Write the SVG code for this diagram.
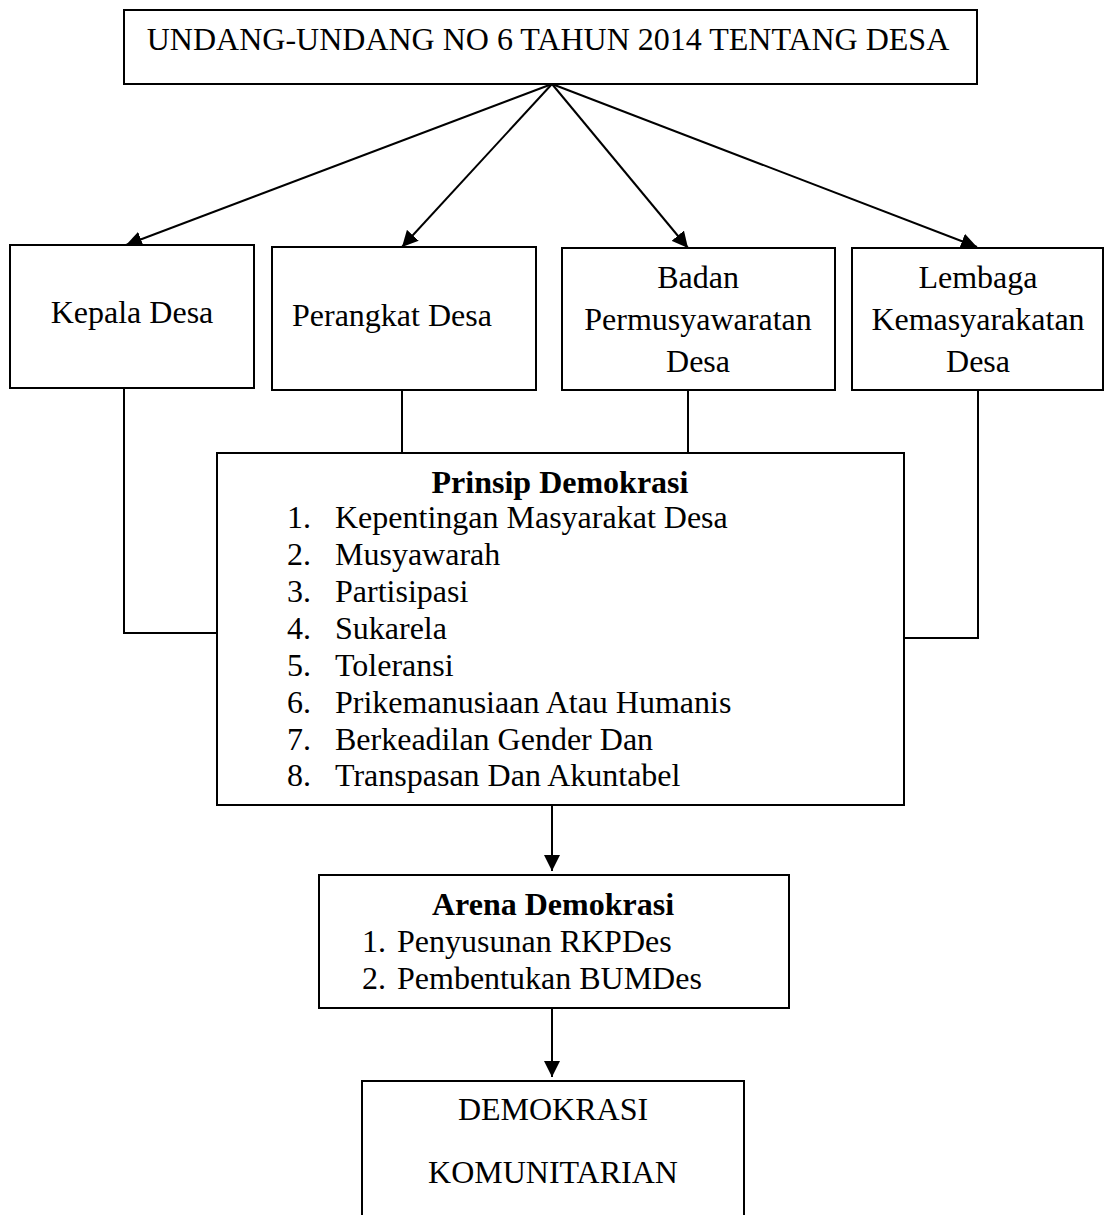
<svg xmlns="http://www.w3.org/2000/svg" width="1105" height="1215" viewBox="0 0 1105 1215">
<style>
.box{fill:#fff;stroke:#000;stroke-width:2}
.t{font-family:"Liberation Serif","Times New Roman",serif;font-size:32px;fill:#000}
.c{text-anchor:middle}
.b{font-weight:bold}
.ln{stroke:#000;stroke-width:2;fill:none}
</style>
<defs>
<marker id="ah" markerUnits="userSpaceOnUse" markerWidth="17" markerHeight="16" refX="16" refY="8" orient="auto">
<path d="M0,0 L16,8 L0,16 z" fill="#000"/>
</marker>
</defs>
<rect width="1105" height="1215" fill="#fff"/>
<g id="connectors">
<line class="ln" x1="552" y1="84" x2="126" y2="245" marker-end="url(#ah)"/>
<line class="ln" x1="552" y1="84" x2="402" y2="247" marker-end="url(#ah)"/>
<line class="ln" x1="552" y1="84" x2="688" y2="248" marker-end="url(#ah)"/>
<line class="ln" x1="552" y1="84" x2="977" y2="247" marker-end="url(#ah)"/>
<polyline class="ln" points="124,388 124,633 217,633"/>
<line class="ln" x1="402" y1="390" x2="402" y2="453"/>
<line class="ln" x1="688" y1="390" x2="688" y2="453"/>
<polyline class="ln" points="978,390 978,638 904,638"/>
<line class="ln" x1="552" y1="805" x2="552" y2="871" marker-end="url(#ah)"/>
<line class="ln" x1="552" y1="1008" x2="552" y2="1077" marker-end="url(#ah)"/>
</g>
<g id="undang">
<rect class="box" x="124" y="10" width="853" height="74"/>
<text class="t c" x="548" y="50">UNDANG-UNDANG NO 6 TAHUN 2014 TENTANG DESA</text>
</g>
<g id="kepala">
<rect class="box" x="10" y="245" width="244" height="143"/>
<text class="t c" x="132" y="323">Kepala Desa</text>
</g>
<g id="perangkat">
<rect class="box" x="272" y="247" width="264" height="143"/>
<text class="t" x="292" y="326">Perangkat Desa</text>
</g>
<g id="badan">
<rect class="box" x="562" y="248" width="273" height="142"/>
<text class="t c" x="698" y="288">Badan</text>
<text class="t c" x="698" y="330">Permusyawaratan</text>
<text class="t c" x="698" y="372">Desa</text>
</g>
<g id="lembaga">
<rect class="box" x="852" y="248" width="251" height="142"/>
<text class="t c" x="978" y="288">Lembaga</text>
<text class="t c" x="978" y="330">Kemasyarakatan</text>
<text class="t c" x="978" y="372">Desa</text>
</g>
<g id="prinsip">
<rect class="box" x="217" y="453" width="687" height="352"/>
<text class="t c b" x="560" y="493">Prinsip Demokrasi</text>
<text class="t" x="287" y="528">1.</text><text class="t" x="335" y="528">Kepentingan Masyarakat Desa</text>
<text class="t" x="287" y="565">2.</text><text class="t" x="335" y="565">Musyawarah</text>
<text class="t" x="287" y="602">3.</text><text class="t" x="335" y="602">Partisipasi</text>
<text class="t" x="287" y="639">4.</text><text class="t" x="335" y="639">Sukarela</text>
<text class="t" x="287" y="676">5.</text><text class="t" x="335" y="676">Toleransi</text>
<text class="t" x="287" y="713">6.</text><text class="t" x="335" y="713">Prikemanusiaan Atau Humanis</text>
<text class="t" x="287" y="750">7.</text><text class="t" x="335" y="750">Berkeadilan Gender Dan</text>
<text class="t" x="287" y="786">8.</text><text class="t" x="335" y="786">Transpasan Dan Akuntabel</text>
</g>
<g id="arena">
<rect class="box" x="319" y="875" width="470" height="133"/>
<text class="t c b" x="553" y="915">Arena Demokrasi</text>
<text class="t" x="362" y="952">1.</text><text class="t" x="397" y="952">Penyusunan RKPDes</text>
<text class="t" x="362" y="989">2.</text><text class="t" x="397" y="989">Pembentukan BUMDes</text>
</g>
<g id="komunitarian">
<rect class="box" x="362" y="1081" width="382" height="160"/>
<text class="t c" x="553" y="1120">DEMOKRASI</text>
<text class="t c" x="553" y="1183">KOMUNITARIAN</text>
</g>
</svg>
